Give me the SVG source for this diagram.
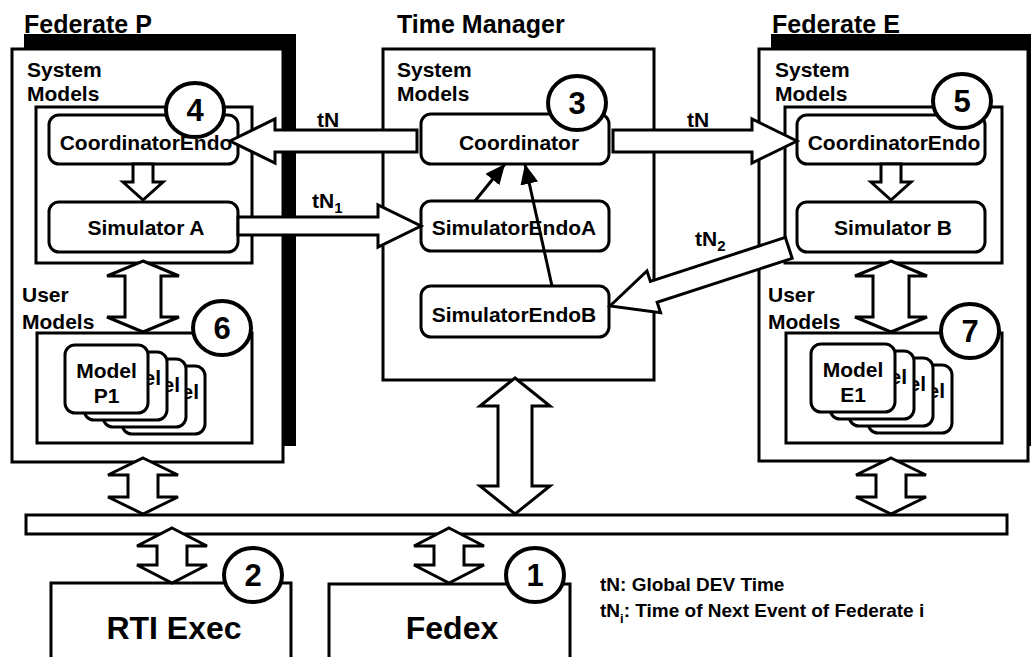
<svg xmlns="http://www.w3.org/2000/svg" width="1031" height="657" viewBox="0 0 1031 657">
<style>
.bg{fill:#fff}
.box{fill:#fff;stroke:#000;stroke-width:3}
.sh{fill:#000}
.num{fill:#fff;stroke:#000;stroke-width:4}
.blk{fill:#fff;stroke:#000;stroke-width:3;stroke-linejoin:miter}
.ln{stroke:#000;stroke-width:3;fill:none}
text{font-family:"Liberation Sans",Arial,sans-serif;font-weight:bold;fill:#000}
.t{font-size:21px}
.ttl{font-size:25px}
.n{font-size:31px;text-anchor:middle}
.m{text-anchor:middle}
.e{text-anchor:end}
.lg{font-size:19px}
.big{font-size:32px;text-anchor:middle}
</style>
<defs>
<marker id="ah" viewBox="0 0 20 18" refX="20" refY="9" markerWidth="20" markerHeight="18" markerUnits="userSpaceOnUse" orient="auto">
<path d="M0,0 L20,9 L0,18 z" fill="#000"/>
</marker>
</defs>
<rect class="bg" x="0" y="0" width="1031" height="657"/>

<g id="federateP">
<text class="ttl" x="24" y="33">Federate P</text>
<rect class="sh" x="24" y="34" width="272" height="412"/>
<rect class="box" x="12" y="49" width="271" height="413"/>
<text class="t" x="27" y="77">System</text>
<text class="t" x="27" y="101">Models</text>
<rect class="box" x="36" y="107" width="216" height="156"/>
<text class="t" x="22" y="302">User</text>
<text class="t" x="22" y="329">Models</text>
<rect class="box" x="37" y="333" width="215" height="110"/>
</g>
<g id="coordEndoP">
<rect class="box" x="49" y="115" width="189" height="49" rx="10"/>
<text class="t m" x="146" y="150">CoordinatorEndo</text>
</g>
<g id="simA">
<rect class="box" x="49" y="202" width="189" height="50" rx="10"/>
<text class="t m" x="146" y="235">Simulator A</text>
</g>
<g id="modelsP">
<rect class="box" x="122" y="366" width="83" height="68" rx="10"/><text class="t e" x="199" y="399">el</text>
<rect class="box" x="103" y="359" width="83" height="68" rx="10"/><text class="t e" x="180" y="392">el</text>
<rect class="box" x="84" y="352" width="83" height="68" rx="10"/><text class="t e" x="161" y="385">el</text>
<rect class="box" x="65" y="345" width="83" height="68" rx="10"/><text class="t m" x="106.5" y="378">Model</text><text class="t m" x="106.5" y="403">P1</text>
</g>

<g id="timeManager">
<text class="ttl" x="397" y="33">Time Manager</text>
<rect class="box" x="383" y="49" width="271" height="331"/>
<text class="t" x="397" y="77">System</text>
<text class="t" x="397" y="101">Models</text>
</g>
<g id="coordinator">
<rect class="box" x="421" y="114" width="188" height="50" rx="10"/>
<text class="t m" x="519" y="150">Coordinator</text>
</g>
<g id="simEndoA">
<rect class="box" x="421" y="201" width="188" height="50" rx="10"/>
<text class="t m" x="514" y="235">SimulatorEndoA</text>
</g>
<g id="simEndoB">
<rect class="box" x="421" y="286" width="188" height="51" rx="10"/>
<text class="t m" x="514" y="322">SimulatorEndoB</text>
</g>

<g id="federateE">
<text class="ttl" x="772" y="33">Federate E</text>
<rect class="sh" x="771" y="34" width="275" height="412"/>
<rect class="box" x="759" y="49" width="269" height="412"/>
<text class="t" x="775" y="77">System</text>
<text class="t" x="775" y="101">Models</text>
<rect class="box" x="785" y="107" width="217" height="156"/>
<text class="t" x="768" y="302">User</text>
<text class="t" x="768" y="329">Models</text>
<rect class="box" x="786" y="333" width="216" height="110"/>
</g>
<g id="coordEndoE">
<rect class="box" x="797" y="115" width="188" height="49" rx="10"/>
<text class="t m" x="894" y="150">CoordinatorEndo</text>
</g>
<g id="simB">
<rect class="box" x="797" y="202" width="188" height="50" rx="10"/>
<text class="t m" x="893" y="235">Simulator B</text>
</g>
<g id="modelsE">
<rect class="box" x="868" y="365" width="84" height="68" rx="10"/><text class="t e" x="945" y="398">el</text>
<rect class="box" x="849" y="358" width="84" height="68" rx="10"/><text class="t e" x="926" y="391">el</text>
<rect class="box" x="830" y="351" width="84" height="68" rx="10"/><text class="t e" x="907" y="384">el</text>
<rect class="box" x="811" y="344" width="84" height="68" rx="10"/><text class="t m" x="853" y="377">Model</text><text class="t m" x="853" y="402">E1</text>
</g>

<g id="bus"><rect class="box" x="26" y="515" width="981" height="19"/></g>
<g id="rtiExec">
<rect class="box" x="51" y="583" width="240" height="90"/>
<text class="big" x="174" y="639">RTI Exec</text>
</g>
<g id="fedex">
<rect class="box" x="329" y="584" width="241" height="90"/>
<text class="big" x="452" y="639">Fedex</text>
</g>

<g id="badges">
<ellipse class="num" cx="195" cy="110" rx="29" ry="27"/><text class="n" x="195" y="121">4</text>
<ellipse class="num" cx="577" cy="103" rx="29" ry="27"/><text class="n" x="577" y="114">3</text>
<ellipse class="num" cx="962" cy="101" rx="29" ry="27"/><text class="n" x="962" y="112">5</text>
<ellipse class="num" cx="222" cy="328" rx="29" ry="27"/><text class="n" x="222" y="339">6</text>
<ellipse class="num" cx="970" cy="331" rx="29" ry="27"/><text class="n" x="970" y="342">7</text>
<ellipse class="num" cx="253" cy="575" rx="29" ry="27"/><text class="n" x="253" y="586">2</text>
<ellipse class="num" cx="535" cy="575" rx="29" ry="27"/><text class="n" x="535" y="586">1</text>
</g>

<g id="connectors">
<polygon class="blk" points="133,164 153,164 153,182 163,182 143,200 123,182 133,182"/>
<polygon class="blk" points="881,164 901,164 901,182 911,182 891,200 871,182 881,182"/>
<polygon class="blk" points="143,261 179,276 161,276 161,317 179,317 143,332 107,317 125,317 125,276 107,276"/>
<polygon class="blk" points="891,261 927,276 909,276 909,317 927,317 891,332 855,317 873,317 873,276 855,276"/>
<polygon class="blk" points="143,458 178,475 158,475 158,497 178,497 143,514 108,497 128,497 128,475 108,475"/>
<polygon class="blk" points="891,458 926,475 906,475 906,497 926,497 891,514 856,497 876,497 876,475 856,475"/>
<polygon class="blk" points="515,378 550,406 532,406 532,486 550,486 515,514 480,486 498,486 498,406 480,406"/>
<polygon class="blk" points="172,528 207,546 187,546 187,565 207,565 172,583 137,565 157,565 157,546 137,546"/>
<polygon class="blk" points="449,528 484,546 464,546 464,565 484,565 449,583 414,565 434,565 434,546 414,546"/>
<polygon class="blk" points="230,141 275,119 275,130 417,130 417,152 275,152 275,163"/>
<polygon class="blk" points="797,141 752,119 752,130 613,130 613,152 752,152 752,163"/>
<polygon class="blk" points="238,217 378,217 378,205 421,226 378,247 378,235 238,235"/>
<polygon class="blk" transform="translate(610,306) rotate(-18)" points="0,0 46,-22 46,-11 188,-11 188,11 46,11 46,22"/>
<line class="ln" x1="475" y1="201" x2="505" y2="164" marker-end="url(#ah)"/>
<line class="ln" x1="552" y1="286" x2="525" y2="164" marker-end="url(#ah)"/>
<text class="t" x="317" y="127">tN</text>
<text class="t" x="687" y="127">tN</text>
<text class="t" x="312" y="208">tN<tspan font-size="15" dy="5">1</tspan></text>
<text class="t" x="695" y="246">tN<tspan font-size="15" dy="5">2</tspan></text>
</g>

<g id="legend">
<text class="lg" x="600" y="591">tN: Global DEV Time</text>
<text class="lg" x="600" y="617">tN<tspan font-size="13" dy="6">i</tspan><tspan dy="-6">: Time of Next Event of Federate i</tspan></text>
</g>
</svg>
